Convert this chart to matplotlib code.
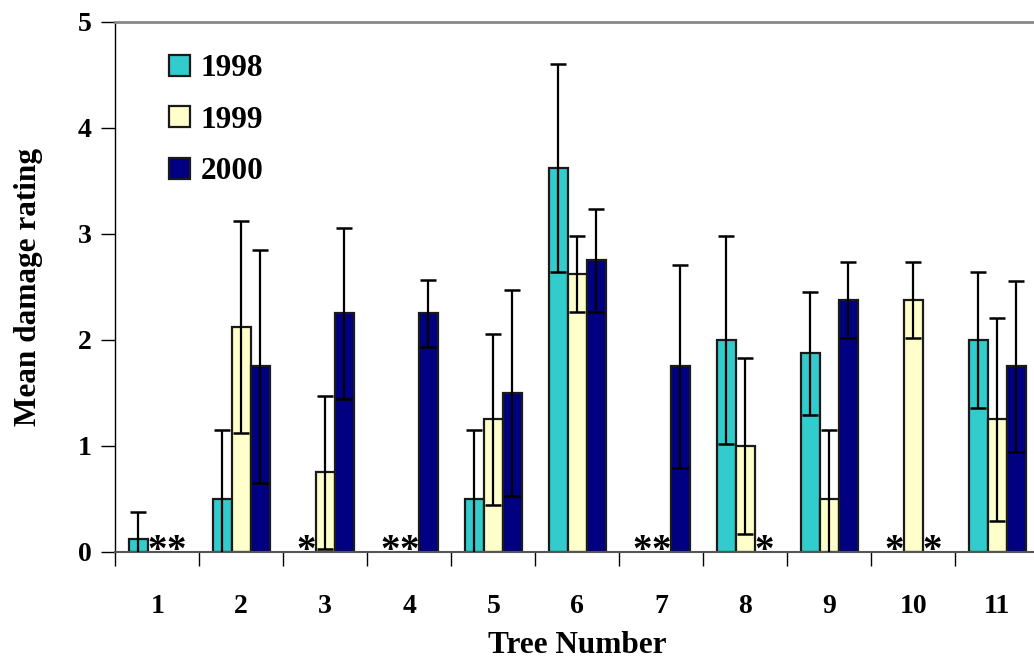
# Mean damage rating per tree, 1998-2000

import numpy as np
import matplotlib
matplotlib.use("Agg")
import matplotlib.pyplot as plt

# -----------------------------
# 1. Data (nan = no data, marked with *)
# -----------------------------
trees = ['1', '2', '3', '4', '5', '6', '7', '8', '9', '10', '11']
years = ['1998', '1999', '2000']

mean_1998 = [0.125, 0.5, np.nan, np.nan, 0.5, 3.625, np.nan, 2.0, 1.875, np.nan, 2.0]
mean_1999 = [np.nan, 2.125, 0.75, np.nan, 1.25, 2.625, np.nan, 1.0, 0.5, 2.375, 1.25]
mean_2000 = [np.nan, 1.75, 2.25, 2.25, 1.5, 2.75, 1.75, np.nan, 2.375, np.nan, 1.75]

err_1998 = [0.25, 0.65, np.nan, np.nan, 0.65, 0.98, np.nan, 0.98, 0.58, np.nan, 0.64]
err_1999 = [np.nan, 1.0, 0.72, np.nan, 0.81, 0.36, np.nan, 0.83, 0.65, 0.36, 0.96]
err_2000 = [np.nan, 1.1, 0.81, 0.32, 0.97, 0.49, 0.96, np.nan, 0.36, np.nan, 0.81]

colors = ['#33CCCC', '#FFFFCC', '#000080']

# -----------------------------
# 2. Figure
# -----------------------------
plt.rcParams['font.family'] = ['Liberation Serif', 'DejaVu Serif']
plt.rcParams['font.weight'] = 'bold'

fig = plt.figure(figsize=(10.34, 6.62), dpi=100)
ax = fig.add_axes([0.1115, 0.1662, 0.8937, 0.8006])

x = np.arange(len(trees)) + 0.5
width = 0.226
means = [mean_1998, mean_1999, mean_2000]
errs = [err_1998, err_1999, err_2000]

for i, (m, e, c, yr) in enumerate(zip(means, errs, colors, years)):
    xpos = x + (i - 1) * width
    ax.bar(xpos, m, width, color=c, edgecolor='#1a1a1a', linewidth=1.6, label=yr, zorder=2)
    ax.errorbar(xpos, m, yerr=e, fmt='none', ecolor='black', elinewidth=1.6,
                capsize=5.5, capthick=1.8, zorder=3)
    # asterisk where no data
    for xp, v in zip(xpos, m):
        if np.isnan(v):
            ax.text(xp, 0.0, '*', ha='center', va='center', fontsize=28,
                    fontweight='bold', zorder=4, clip_on=False)

# -----------------------------
# 3. Axes styling
# -----------------------------
ax.set_xlim(0, 11)
ax.set_ylim(0, 5)
ax.set_yticks(range(6))
ax.set_xticks(x)
ax.set_xticklabels(trees)
ax.set_xticks(np.arange(12), minor=True)
ax.tick_params(axis='x', which='major', length=0, pad=30, labelsize=20)
ax.tick_params(axis='x', which='minor', length=10, width=1, direction='out', color='black')
ax.tick_params(axis='y', length=10, width=1, direction='out', pad=7, labelsize=20)

ax.spines['right'].set_visible(False)
ax.spines['top'].set_color('#888888')
ax.spines['top'].set_linewidth(2)
ax.spines['left'].set_linewidth(1)
ax.spines['bottom'].set_color('#555555')
ax.spines['bottom'].set_linewidth(1.5)

ax.set_ylabel('Mean damage rating', fontsize=22.5, fontweight='bold', labelpad=25)
ax.set_xlabel('Tree Number', fontsize=22.5, fontweight='bold', labelpad=9)

ax.legend(loc='upper left', bbox_to_anchor=(0.045, 0.963), frameon=False,
          fontsize=22.5, handlelength=0.65, handleheight=0.65, handletextpad=0.35,
          labelspacing=0.72, borderaxespad=0)

fig.savefig('out.png', dpi=100)
